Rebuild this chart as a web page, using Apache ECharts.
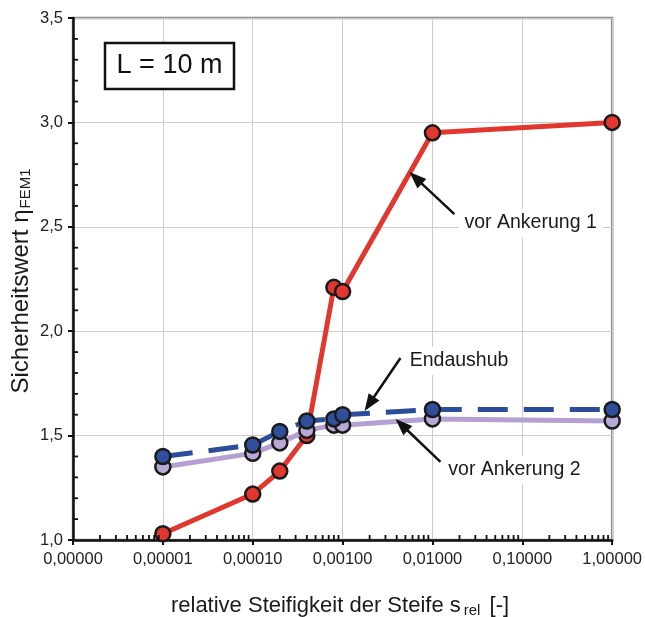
<!DOCTYPE html>
<html>
<head>
<meta charset="utf-8">
<script src="https://cdn.jsdelivr.net/npm/echarts@6/dist/echarts.min.js"></script>
<style>
html,body{margin:0;padding:0;background:#fff;}
#c{width:645px;height:617px;}
</style>
</head>
<body>
<div id="c"></div>
<script>
// ---- data ----
var stiffness = [0.00001, 0.0001, 0.0002, 0.0004, 0.0008, 0.001, 0.01, 1];
var vorAnkerung1 = [1.03, 1.22, 1.33, 1.50, 2.21, 2.19, 2.95, 3.00];
var endaushub = [1.40, 1.455, 1.52, 1.57, 1.58, 1.60, 1.625, 1.625];
var vorAnkerung2 = [1.35, 1.415, 1.465, 1.525, 1.55, 1.55, 1.58, 1.57];
var yTicks = [1.0, 1.5, 2.0, 2.5, 3.0, 3.5];
var xTickLabels = ['0,00000', '0,00001', '0,00010', '0,00100', '0,01000', '0,10000', '1,00000'];

// minor tick positions (axis decoration)
var xMinor = [];
for (var d = -6; d < 0; d++) {
  for (var k = 2; k <= 9; k++) xMinor.push([k * Math.pow(10, d), 1.0]);
}
var yMinor = [];
for (var i = 1; i <= 24; i++) { if (i % 5 !== 0) yMinor.push([0.000001, 1 + i * 0.1]); }

function pairs(xs, ys) { return xs.map(function (x, i) { return [x, ys[i]]; }); }

var FONT = '"Liberation Sans", Arial, sans-serif';
var chart = echarts.init(document.getElementById('c'), null, { renderer: 'canvas' });

var symStyle = function (c) { return { color: c, borderColor: '#1a1a1a', borderWidth: 2.5 }; };

var option = {
  animation: false,
  backgroundColor: '#ffffff',
  grid: { left: 73, top: 18, right: 32, bottom: 77, show: true, borderColor: '#8a8f95', borderWidth: 2.5, backgroundColor: 'transparent' },
  xAxis: {
    type: 'log', logBase: 10, min: 0.000001, max: 1,
    axisLine: { lineStyle: { color: '#111', width: 2.5 } },
    axisTick: { length: 5, lineStyle: { color: '#111', width: 2 } },
    axisLabel: { margin: 11, fontFamily: FONT, fontSize: 16.5, color: '#222',
      formatter: function (v) { var e = Math.round(Math.log10(v)); return xTickLabels[e + 6]; } },
    splitLine: { show: true, lineStyle: { color: '#cccccc', width: 1 } }
  },
  yAxis: {
    type: 'value', min: 1.0, max: 3.5, interval: 0.5,
    axisLine: { show: true, lineStyle: { color: '#111', width: 2.5 } },
    axisTick: { show: true, length: 5, lineStyle: { color: '#111', width: 2 } },
    axisLabel: { margin: 10, fontFamily: FONT, fontSize: 16.5, color: '#222',
      formatter: function (v) { return v.toFixed(1).replace('.', ','); } },
    splitLine: { show: true, lineStyle: { color: '#cccccc', width: 1 } }
  },
  series: [
    {
      name: 'xminor', type: 'custom', silent: true, z: 10, clip: false,
      data: xMinor, encode: { x: 0, y: 1 },
      renderItem: function (params, api) {
        var p = api.coord([api.value(0), api.value(1)]);
        return { type: 'line', shape: { x1: p[0], y1: p[1], x2: p[0], y2: p[1] - 5 }, style: { stroke: '#111', lineWidth: 1.8 } };
      }
    },
    {
      name: 'yminor', type: 'custom', silent: true, z: 10, clip: false,
      data: yMinor, encode: { x: 0, y: 1 },
      renderItem: function (params, api) {
        var p = api.coord([api.value(0), api.value(1)]);
        return { type: 'line', shape: { x1: p[0], y1: p[1], x2: p[0] + 5, y2: p[1] }, style: { stroke: '#111', lineWidth: 1.8 } };
      }
    },
    {
      name: 'vor Ankerung 1', type: 'line', data: pairs(stiffness, vorAnkerung1), z: 2,
      lineStyle: { color: '#e1372e', width: 5 },
      symbol: 'circle', symbolSize: 15, itemStyle: symStyle('#e1372e')
    },
    {
      name: 'vor Ankerung 2', type: 'line', data: pairs(stiffness, vorAnkerung2), z: 3,
      lineStyle: { color: '#b4a0d2', width: 5 },
      symbol: 'circle', symbolSize: 15, itemStyle: symStyle('#b9a7d7')
    },
    {
      name: 'Endaushub', type: 'line', data: pairs(stiffness, endaushub), z: 4,
      lineStyle: { color: '#2c4d99', width: 5, type: [30, 16] },
      symbol: 'circle', symbolSize: 15, itemStyle: symStyle('#2f4f9c')
    }
  ]
};
chart.setOption(option);

// ---- annotations (positioned in data space) ----
function px(lx, y) { return chart.convertToPixel({ gridIndex: 0 }, [Math.pow(10, lx), y]); }
function arrow(tail, tip) {
  var dx = tip[0] - tail[0], dy = tip[1] - tail[1];
  var L = Math.sqrt(dx * dx + dy * dy), ux = dx / L, uy = dy / L;
  var hl = 17, hw = 6.5;
  var bx = tip[0] - ux * hl, by = tip[1] - uy * hl;
  return [
    { type: 'line', z: 50, shape: { x1: tail[0], y1: tail[1], x2: bx + ux * 2, y2: by + uy * 2 }, style: { stroke: '#111', lineWidth: 2.5 } },
    { type: 'polygon', z: 50, shape: { points: [tip, [bx - uy * hw, by + ux * hw], [bx + uy * hw, by - ux * hw]] }, style: { fill: '#111' } }
  ];
}
var g = [];
g = g.concat(arrow(px(-1.756, 2.561), px(-2.256, 2.762)));
g = g.concat(arrow(px(-2.356, 1.872), px(-2.756, 1.618)));
g = g.concat(arrow(px(-1.911, 1.374), px(-2.411, 1.58)));
function label(txt, lx, y) {
  var p = px(lx, y);
  return { type: 'text', z: 49, x: p[0], y: p[1], style: { text: txt, font: '19.5px ' + FONT, fill: '#1a1a1a', verticalAlign: 'middle', align: 'left', backgroundColor: '#fff', padding: [4, 6, 4, 6] } };
}
g.push(label('vor Ankerung 1', -1.71, 2.518));
g.push(label('Endaushub', -2.32, 1.857));
g.push(label('vor Ankerung 2', -1.89, 1.335));
// L box
g.push({ type: 'rect', z: 49, shape: { x: 105, y: 43, width: 129, height: 46 }, style: { fill: '#fff', stroke: '#111', lineWidth: 2.5 } });
g.push({ type: 'text', z: 50, x: 169.5, y: 66, style: { text: 'L = 10 m', font: '27px ' + FONT, fill: '#111', align: 'center', verticalAlign: 'middle' } });
// axis titles
g.push({ type: 'text', z: 50, x: 340, y: 606, style: {
  text: 'relative Steifigkeit der Steife s{sub|rel} [-]', font: '22px ' + FONT, fill: '#1a1a1a', align: 'center', verticalAlign: 'middle',
  rich: { sub: { fontSize: 15, fontFamily: FONT, fill: '#1a1a1a', padding: [10, 3, 0, 3] } } } });
g.push({ type: 'text', z: 50, x: 21, y: 281, rotation: Math.PI / 2, style: {
  text: 'Sicherheitswert η{sub|FEM1}', font: '24px ' + FONT, fill: '#1a1a1a', align: 'center', verticalAlign: 'middle',
  rich: { sub: { fontSize: 15, fontFamily: FONT, fill: '#1a1a1a', padding: [9, 0, 0, 1] } } } });
chart.setOption({ graphic: g });
</script>
</body>
</html>
